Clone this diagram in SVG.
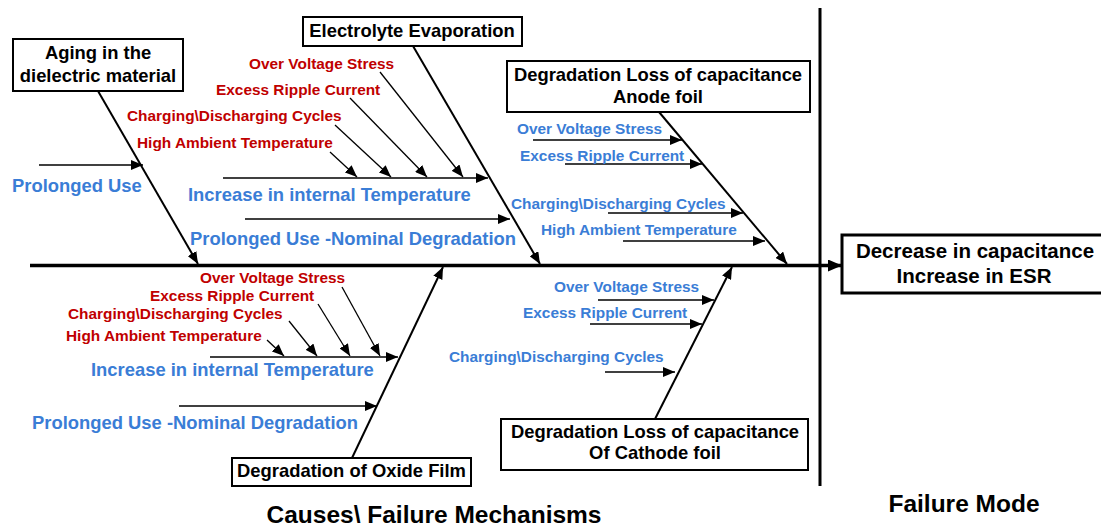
<svg xmlns="http://www.w3.org/2000/svg" width="1101" height="527" viewBox="0 0 1101 527">
<style>
text{font-family:"Liberation Sans",Arial,sans-serif;font-weight:bold}
.box{fill:#fff;stroke:#000;stroke-width:2}
.bt{font-size:18.4px;fill:#000;text-anchor:middle}
.red{font-size:15.4px;fill:#c00000}
.bs{font-size:15.4px;fill:#3a7dd6}
.bl{font-size:18.4px;fill:#3a7dd6}
.bone{stroke:#000;stroke-width:2;fill:none;marker-end:url(#ah)}
.sub{stroke:#000;stroke-width:1.3;fill:none;marker-end:url(#ah)}
.big{font-size:24.5px;fill:#000;text-anchor:middle}
</style>
<defs>
<marker id="ah" viewBox="0 0 12 10" refX="12" refY="5" markerWidth="12" markerHeight="10" orient="auto" markerUnits="userSpaceOnUse"><path d="M0,0 L12,5 L0,10 z" fill="#000"/></marker>
<marker id="ahb" viewBox="0 0 14 12" refX="14" refY="6" markerWidth="14" markerHeight="12" orient="auto" markerUnits="userSpaceOnUse"><path d="M0,0 L14,6 L0,12 z" fill="#000"/></marker>
</defs>
<rect width="1101" height="527" fill="#fff"/>
<g id="connectors">
<line x1="30" y1="265.5" x2="842" y2="265.5" stroke="#000" stroke-width="3.5" marker-end="url(#ahb)"/>
<line x1="820" y1="8" x2="820" y2="486" stroke="#000" stroke-width="3"/>
<line class="bone" x1="98" y1="91" x2="198" y2="264"/>
<line class="bone" x1="413" y1="46" x2="540" y2="264"/>
<line class="bone" x1="659" y1="112" x2="787" y2="264"/>
<line class="bone" x1="352" y1="458" x2="443" y2="267"/>
<line class="bone" x1="655" y1="419" x2="732" y2="267"/>
<line class="sub" x1="39" y1="165" x2="143" y2="165"/>
<line class="sub" x1="223" y1="178" x2="488" y2="178"/>
<line class="sub" x1="245" y1="219" x2="510" y2="219"/>
<line class="sub" x1="330" y1="152" x2="357" y2="177"/>
<line class="sub" x1="335" y1="125" x2="391" y2="177"/>
<line class="sub" x1="350" y1="98" x2="427" y2="177"/>
<line class="sub" x1="380" y1="72" x2="463" y2="177"/>
<line class="sub" x1="533" y1="140" x2="682" y2="140"/>
<line class="sub" x1="565" y1="164" x2="702" y2="164"/>
<line class="sub" x1="608" y1="213" x2="743" y2="213"/>
<line class="sub" x1="623" y1="241" x2="765" y2="241"/>
<line class="sub" x1="210" y1="357" x2="398" y2="357"/>
<line class="sub" x1="179" y1="406" x2="377" y2="406"/>
<line class="sub" x1="267" y1="340" x2="284" y2="356"/>
<line class="sub" x1="289" y1="321" x2="317" y2="356"/>
<line class="sub" x1="318" y1="304" x2="350" y2="356"/>
<line class="sub" x1="342" y1="287" x2="380" y2="356"/>
<line class="sub" x1="598" y1="300" x2="714" y2="300"/>
<line class="sub" x1="590" y1="324" x2="702" y2="324"/>
<line class="sub" x1="605" y1="372" x2="675" y2="372"/>
</g>
<g id="aging">
<rect class="box" x="13" y="39" width="170" height="52"/>
<text class="bt" x="98" y="59">Aging in the</text>
<text class="bt" x="98" y="82">dielectric material</text>
</g>
<g id="electrolyte">
<rect class="box" x="303" y="17" width="219" height="29"/>
<text class="bt" x="412" y="37">Electrolyte Evaporation</text>
</g>
<g id="anode">
<rect class="box" x="507" y="61" width="303" height="51"/>
<text class="bt" x="658" y="81">Degradation Loss of capacitance</text>
<text class="bt" x="658" y="103">Anode foil</text>
</g>
<g id="oxide">
<rect class="box" x="232" y="458" width="239" height="28"/>
<text class="bt" x="351.5" y="477">Degradation of Oxide Film</text>
</g>
<g id="cathode">
<rect class="box" x="501" y="419" width="307" height="51"/>
<text class="bt" x="655" y="438">Degradation Loss of capacitance</text>
<text class="bt" x="655" y="459">Of Cathode foil</text>
</g>
<g id="effect">
<rect x="842" y="235" width="275" height="58" fill="#fff" stroke="#000" stroke-width="3"/>
<text x="975" y="258" style="font-size:20.5px;text-anchor:middle">Decrease in capacitance</text>
<text x="974" y="283" style="font-size:20.5px;text-anchor:middle">Increase in ESR</text>
</g>
<g id="causes-top-left">
<text class="bl" x="12" y="192">Prolonged Use</text>
<text class="red" x="249" y="69">Over Voltage Stress</text>
<text class="red" x="216" y="95">Excess Ripple Current</text>
<text class="red" x="127" y="121">Charging\Discharging Cycles</text>
<text class="red" x="137" y="148">High Ambient Temperature</text>
<text class="bl" x="188" y="201">Increase in internal Temperature</text>
<text class="bl" x="190" y="245">Prolonged Use -Nominal Degradation</text>
</g>
<g id="causes-anode">
<text class="bs" x="517" y="134">Over Voltage Stress</text>
<text class="bs" x="520" y="161">Excess Ripple Current</text>
<text class="bs" x="511" y="209">Charging\Discharging Cycles</text>
<text class="bs" x="541" y="235">High Ambient Temperature</text>
</g>
<g id="causes-oxide">
<text class="red" x="200" y="283">Over Voltage Stress</text>
<text class="red" x="150" y="301">Excess Ripple Current</text>
<text class="red" x="68" y="319">Charging\Discharging Cycles</text>
<text class="red" x="66" y="341">High Ambient Temperature</text>
<text class="bl" x="91" y="376">Increase in internal Temperature</text>
<text class="bl" x="32" y="429">Prolonged Use -Nominal Degradation</text>
</g>
<g id="causes-cathode">
<text class="bs" x="554" y="292">Over Voltage Stress</text>
<text class="bs" x="523" y="318">Excess Ripple Current</text>
<text class="bs" x="449" y="362">Charging\Discharging Cycles</text>
</g>
<g id="titles">
<text class="big" x="434" y="523">Causes\ Failure Mechanisms</text>
<text class="big" x="964" y="512">Failure Mode</text>
</g>
</svg>
